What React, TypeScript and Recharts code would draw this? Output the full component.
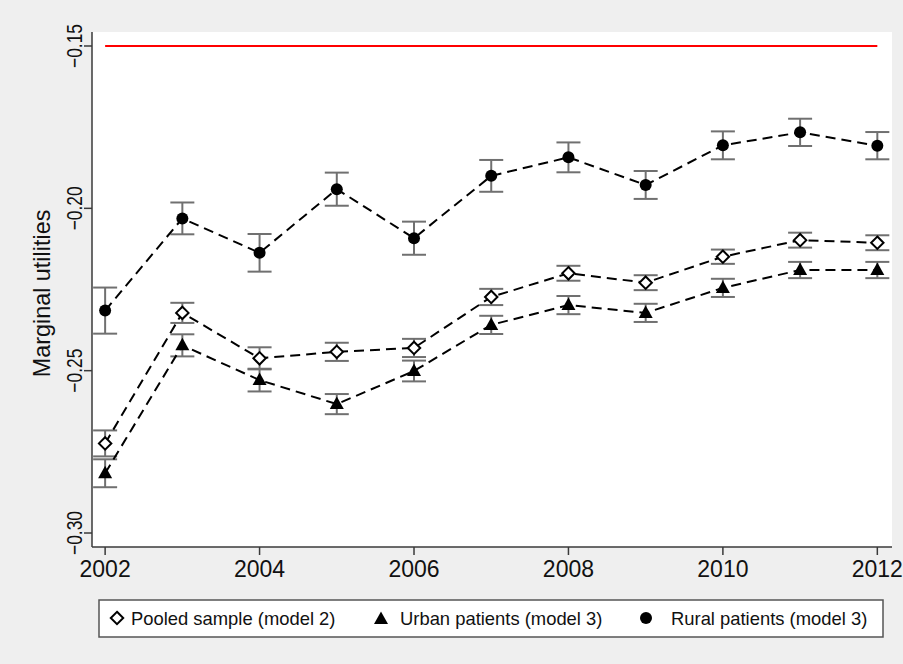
import React from "react";
import { ComposedChart, Line, XAxis, YAxis, CartesianGrid, ErrorBar, Label } from "recharts";

const years = [2002, 2003, 2004, 2005, 2006, 2007, 2008, 2009, 2010, 2011, 2012];
const pooled = [-0.2724, -0.2322, -0.2462, -0.2442, -0.243, -0.2273, -0.22, -0.2229, -0.2149, -0.2098, -0.2106];
const pooledErr = [0.004, 0.0031, 0.0034, 0.0028, 0.0028, 0.0025, 0.0023, 0.0023, 0.0022, 0.0023, 0.0023];
const urban = [-0.2816, -0.2422, -0.2529, -0.2603, -0.2501, -0.2359, -0.2298, -0.2322, -0.2245, -0.219, -0.219];
const urbanErr = [0.0043, 0.0034, 0.0035, 0.0031, 0.0032, 0.0028, 0.0028, 0.0028, 0.0028, 0.0025, 0.0025];
const rural = [-0.2315, -0.2031, -0.2137, -0.1941, -0.2092, -0.19, -0.1843, -0.1928, -0.1806, -0.1766, -0.1807];
const ruralErr = [0.0071, 0.0049, 0.0058, 0.0051, 0.0051, 0.0049, 0.0046, 0.0043, 0.0043, 0.0042, 0.0042];
const threshold = -0.15;

const xTicks = [2002, 2004, 2006, 2008, 2010, 2012];
const yTicks = [-0.3, -0.25, -0.2, -0.15];
const yTitle = "Marginal utilities";
const legendLabels = ["Pooled sample (model 2)", "Urban patients (model 3)", "Rural patients (model 3)"];

const data = years.map((year, i) => ({
  year,
  pooled: pooled[i],
  pooledErr: pooledErr[i],
  urban: urban[i],
  urbanErr: urbanErr[i],
  rural: rural[i],
  ruralErr: ruralErr[i],
  ref: threshold,
}));

const FONT = "'Liberation Sans', Arial, Helvetica, sans-serif";
const AXIS = "#3a3a3a";
const ERR = "#707070";

const Diamond = (props: any) => {
  const { cx, cy } = props;
  if (cx == null || cy == null) return null;
  const r = 6.2;
  return (
    <polygon
      points={`${cx},${cy - r} ${cx + r},${cy} ${cx},${cy + r} ${cx - r},${cy}`}
      fill="#fff"
      stroke="#000"
      strokeWidth={2}
    />
  );
};

const Triangle = (props: any) => {
  const { cx, cy } = props;
  if (cx == null || cy == null) return null;
  return <polygon points={`${cx},${cy - 7.5} ${cx + 7},${cy + 5} ${cx - 7},${cy + 5}`} fill="#000" />;
};

const Dot = (props: any) => {
  const { cx, cy } = props;
  if (cx == null || cy == null) return null;
  return <circle cx={cx} cy={cy} r={6} fill="#000" />;
};

const fmtY = (v: number) => v.toFixed(2).replace("-", "\u2212");

const XTick = (props: any) => {
  const { x, y, payload } = props;
  return (
    <text x={x} y={y + 20} textAnchor="middle" fontFamily={FONT} fontSize={23} fill="#111">
      {payload.value}
    </text>
  );
};

const YTick = (props: any) => {
  const { x, y, payload } = props;
  return (
    <text
      transform={`translate(${x - 0.5},${y}) rotate(-90)`}
      textAnchor="middle"
      fontFamily={FONT}
      fontSize={22.5}
      textLength={44}
      lengthAdjust="spacingAndGlyphs"
      fill="#111"
    >
      {fmtY(payload.value)}
    </text>
  );
};

const YTitle = (props: any) => {
  const vb = props.viewBox || { x: 0, y: 32, width: 92, height: 515 };
  return (
    <text
      transform={`translate(${vb.x + 50},${vb.y + vb.height / 2 + 4}) rotate(-90)`}
      textAnchor="middle"
      fontFamily={FONT}
      fontSize={23.4}
      fill="#111"
    >
      {yTitle}
    </text>
  );
};

const LegendBox = () => {
  const items = [
    { label: legendLabels[0], mx: 19, tx: 33, kind: "d" },
    { label: legendLabels[1], mx: 283, tx: 302, kind: "t" },
    { label: legendLabels[2], mx: 548, tx: 573, kind: "c" },
  ];
  const cy = 19;
  return (
    <svg width={786} height={39} style={{ position: "absolute", left: 98, top: 599 }}>
      <rect x={1} y={1} width={784} height={37} fill="#fff" stroke="#555" strokeWidth={1.5} />
      {items.map((it, i) => (
        <g key={i}>
          {it.kind === "d" && <Diamond cx={it.mx} cy={cy} />}
          {it.kind === "t" && <Triangle cx={it.mx} cy={cy + 1} />}
          {it.kind === "c" && <Dot cx={it.mx} cy={cy} />}
          <text x={it.tx} y={cy + 7} fontFamily={FONT} fontSize={18.4} fill="#111">
            {it.label}
          </text>
        </g>
      ))}
    </svg>
  );
};

export default function App() {
  return (
    <div style={{ position: "absolute", left: 0, top: 0, width: 903, height: 664, background: "#efefef" }}>
      <ComposedChart width={903} height={664} data={data} margin={{ top: 32, right: 11, bottom: 0, left: 0 }}>
        <CartesianGrid horizontal={false} vertical={false} fill="#ffffff" stroke="none" />
        <XAxis
          type="number"
          dataKey="year"
          domain={[2001.83, 2012.19]}
          ticks={xTicks}
          allowDataOverflow
          height={117}
          tickSize={8}
          tickLine={{ stroke: AXIS, strokeWidth: 1.5 }}
          axisLine={{ stroke: AXIS, strokeWidth: 1.5 }}
          tick={<XTick />}
          interval={0}
        />
        <YAxis
          type="number"
          domain={[-0.30431, -0.14569]}
          ticks={yTicks}
          allowDataOverflow
          width={92}
          tickSize={8}
          tickLine={{ stroke: AXIS, strokeWidth: 1.5 }}
          axisLine={{ stroke: AXIS, strokeWidth: 1.5 }}
          tick={<YTick />}
          interval={0}
        >
          <Label content={<YTitle />} />
        </YAxis>
        <Line dataKey="ref" stroke="#ff0000" strokeWidth={2} dot={false} isAnimationActive={false} />
        <Line
          dataKey="pooled"
          stroke="#000"
          strokeWidth={2}
          strokeDasharray="10 6"
          dot={<Diamond />}
          isAnimationActive={false}
        >
          <ErrorBar dataKey="pooledErr" direction="y" width={12} stroke={ERR} strokeWidth={2} isAnimationActive={false} />
        </Line>
        <Line
          dataKey="urban"
          stroke="#000"
          strokeWidth={2}
          strokeDasharray="10 6"
          dot={<Triangle />}
          isAnimationActive={false}
        >
          <ErrorBar dataKey="urbanErr" direction="y" width={12} stroke={ERR} strokeWidth={2} isAnimationActive={false} />
        </Line>
        <Line
          dataKey="rural"
          stroke="#000"
          strokeWidth={2}
          strokeDasharray="10 6"
          dot={<Dot />}
          isAnimationActive={false}
        >
          <ErrorBar dataKey="ruralErr" direction="y" width={12} stroke={ERR} strokeWidth={2} isAnimationActive={false} />
        </Line>
      </ComposedChart>
      <LegendBox />
    </div>
  );
}
